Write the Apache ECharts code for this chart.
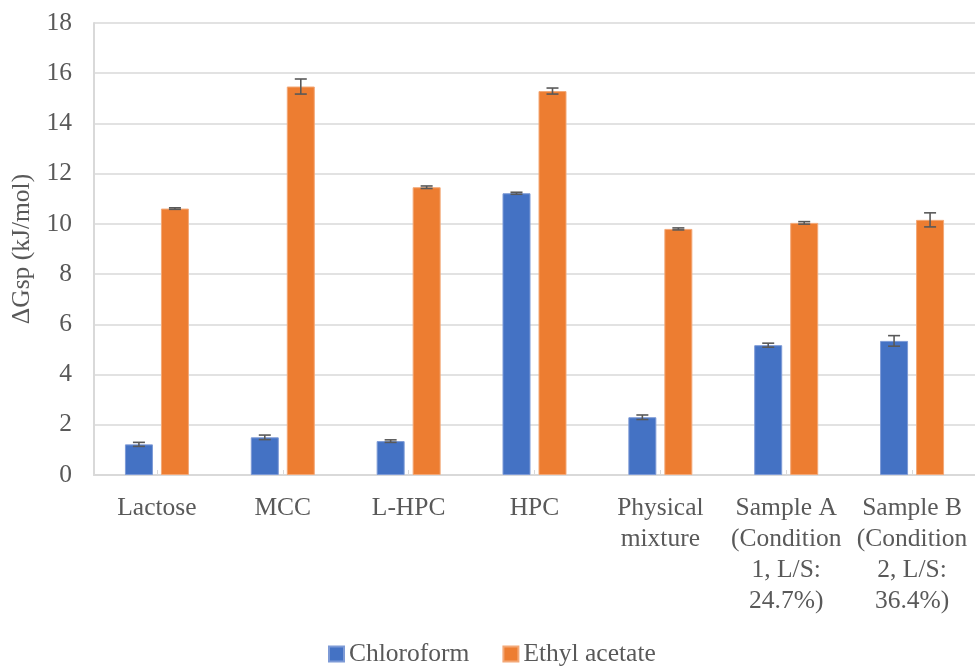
<!DOCTYPE html>
<html>
<head>
<meta charset="utf-8">
<script src="https://cdn.jsdelivr.net/npm/echarts@6/dist/echarts.min.js"></script>
<style>
html,body{margin:0;padding:0;background:#fff;}
#chart{width:975px;height:666px;}
</style>
</head>
<body>
<div id="chart"></div>
<script>
const categories = ["Lactose", "MCC", "L-HPC", "HPC", "Physical\nmixture", "Sample A\n(Condition\n1, L/S:\n24.7%)", "Sample B\n(Condition\n2, L/S:\n36.4%)"];
const chloroform = [1.22, 1.50, 1.35, 11.22, 2.30, 5.17, 5.34];
const chloroformErr = [0.08, 0.09, 0.05, 0.04, 0.09, 0.08, 0.21];
const ethylAcetate = [10.61, 15.47, 11.46, 15.29, 9.80, 10.04, 10.16];
const ethylAcetateErr = [0.03, 0.30, 0.05, 0.12, 0.04, 0.05, 0.28];
const yTicks = [0, 2, 4, 6, 8, 10, 12, 14, 16, 18];

const FONT = '"Liberation Serif", "Times New Roman", serif';
const TXT = '#595959';
const FS = 25.5;
const BAR_W = 28, BAR_GAP = 8;

function errData(vals, errs) {
  return vals.map((v, i) => [i, v - errs[i], v + errs[i]]);
}
function errSeries(name, vals, errs, side) {
  return {
    type: 'custom',
    name: name + ' err',
    z: 10,
    silent: true,
    data: errData(vals, errs),
    renderItem: function (params, api) {
      const i = api.value(0);
      const lo = api.coord([i, api.value(1)]);
      const hi = api.coord([i, api.value(2)]);
      const x = lo[0] + side * (BAR_W + BAR_GAP) / 2;
      const cap = 6;
      const style = { stroke: '#595959', lineWidth: 1.6, fill: null };
      return {
        type: 'group',
        children: [
          { type: 'line', shape: { x1: x, y1: lo[1], x2: x, y2: hi[1] }, style: style },
          { type: 'line', shape: { x1: x - cap, y1: lo[1], x2: x + cap, y2: lo[1] }, style: style },
          { type: 'line', shape: { x1: x - cap, y1: hi[1], x2: x + cap, y2: hi[1] }, style: style }
        ]
      };
    }
  };
}

const chart = echarts.init(document.getElementById('chart'));
chart.setOption({
  animation: false,
  backgroundColor: '#fff',
  grid: { left: 94, right: 0, top: 23, bottom: 191, containLabel: false },
  legend: {
    data: ['Chloroform', 'Ethyl acetate'],
    top: 636,
    left: 323,
    icon: 'rect',
    itemWidth: 15,
    itemHeight: 15,
    itemGap: 33,
    textStyle: { fontFamily: FONT, fontSize: FS, color: TXT }
  },
  xAxis: {
    type: 'category',
    data: categories,
    axisLine: { lineStyle: { color: '#d9d9d9', width: 2 } },
    axisTick: { show: true, alignWithLabel: true, inside: true, length: 5, lineStyle: { color: '#d9d9d9' } },
    axisLabel: { fontFamily: FONT, fontSize: FS, color: TXT, lineHeight: 31, margin: 18, interval: 0 }
  },
  yAxis: {
    type: 'value',
    min: yTicks[0],
    max: yTicks[yTicks.length - 1],
    interval: 2,
    name: 'ΔGsp (kJ/mol)',
    nameLocation: 'middle',
    nameGap: 52,
    nameRotate: 90,
    nameTextStyle: { fontFamily: FONT, fontSize: FS, color: TXT },
    axisLine: { show: true, lineStyle: { color: '#d9d9d9', width: 2 } },
    axisTick: { show: false },
    splitLine: { lineStyle: { color: '#d9d9d9', width: 1.5 } },
    axisLabel: { fontFamily: FONT, fontSize: FS, color: TXT, margin: 22 }
  },
  series: [
    {
      name: 'Chloroform', type: 'bar', data: chloroform,
      barWidth: BAR_W, barGap: (BAR_GAP / BAR_W * 100) + '%',
      itemStyle: { color: '#4472C4', borderColor: '#7d9ad6', borderWidth: 1 }
    },
    {
      name: 'Ethyl acetate', type: 'bar', data: ethylAcetate,
      barWidth: BAR_W,
      itemStyle: { color: '#ED7D31', borderColor: '#f3a877', borderWidth: 1 }
    },
    errSeries('Chloroform', chloroform, chloroformErr, -1),
    errSeries('Ethyl acetate', ethylAcetate, ethylAcetateErr, 1)
  ]
});
</script>
</body>
</html>
